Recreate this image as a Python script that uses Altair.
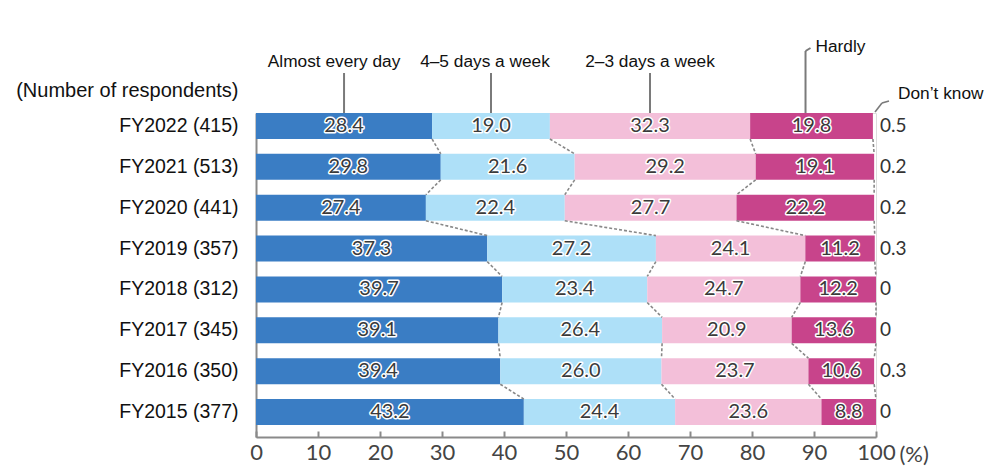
import altair as alt
import pandas as pd

# Survey results by fiscal year (% of respondents)
years = ["FY2022", "FY2021", "FY2020", "FY2019", "FY2018", "FY2017", "FY2016", "FY2015"]
respondents = [415, 513, 441, 357, 312, 345, 350, 377]
categories = ["Almost every day", "4\u20135 days a week", "2\u20133 days a week", "Hardly"]
every_day = [28.4, 29.8, 27.4, 37.3, 39.7, 39.1, 39.4, 43.2]
four_five = [19.0, 21.6, 22.4, 27.2, 23.4, 26.4, 26.0, 24.4]
two_three = [32.3, 29.2, 27.7, 24.1, 24.7, 20.9, 23.7, 23.6]
hardly = [19.8, 19.1, 22.2, 11.2, 12.2, 13.6, 10.6, 8.8]
dont_know = [0.5, 0.2, 0.2, 0.3, 0, 0, 0.3, 0]
x_ticks = [0, 10, 20, 30, 40, 50, 60, 70, 80, 90, 100]

colors = ["#3a7dc4", "#aee0f8", "#f3bfd9", "#c8448b"]

rows = [f"{y} ({n})" for y, n in zip(years, respondents)]
series = [every_day, four_five, two_three, hardly]

# Stacked segments
seg_records = []
cum = []
for i, row in enumerate(rows):
    start = 0.0
    bounds = []
    for cat, vals in zip(categories, series):
        v = vals[i]
        seg_records.append({
            "row": row, "cat": cat, "start": start, "end": start + v,
            "mid": start + v / 2, "label": f"{v:.1f}",
        })
        start += v
        bounds.append(start)
    cum.append(bounds)
segs = pd.DataFrame(seg_records)

# Dashed connectors between consecutive rows at each segment boundary
conn_records = []
for i in range(len(rows) - 1):
    for k in range(4):
        conn_records.append({
            "upper": rows[i], "lower": rows[i + 1],
            "x": cum[i][k], "x2": cum[i + 1][k],
        })
conn = pd.DataFrame(conn_records)

dk = pd.DataFrame({"row": rows, "x": [100] * len(rows),
                   "label": [f"{v:g}" for v in dont_know]})

# Category callouts above the first row
top = segs[segs["row"] == rows[0]].reset_index(drop=True)

LABEL_FONT = "Lato"
TEXT_FONT = "Liberation Sans"
CALLOUT_SIZE = 17.3

y_scale = alt.Scale(domain=rows, paddingInner=0.364, paddingOuter=0.146,
                    align=0, round=False)
x_scale = alt.Scale(domain=[0, 100], nice=False, zero=True)

y_enc = alt.Y(
    "row:N", scale=y_scale, sort=rows,
    axis=alt.Axis(
        title="(Number of respondents)", titleAngle=0, titleAlign="right",
        titleBaseline="middle", titleX=-18, titleY=-23, titleFont=TEXT_FONT,
        titleFontSize=20, titleFontWeight="normal", titleColor="#111",
        labelFont=TEXT_FONT, labelFontSize=19.5, labelColor="#111",
        labelPadding=18, ticks=False, domainColor="#8a8a8a", domainWidth=2,
    ),
)

bars = alt.Chart(segs).mark_bar().encode(
    x=alt.X(
        "start:Q", scale=x_scale,
        axis=alt.Axis(
            values=x_ticks, ticks=False, domainColor="#8a8a8a", domainWidth=2,
            labelFont=LABEL_FONT, labelFontSize=22, labelColor="#444",
            labelPadding=5, labelFlush=False, grid=False,
            title="(%)", titleFont=LABEL_FONT, titleFontSize=22,
            titleFontWeight="normal", titleColor="#444", titleAlign="left",
            titleBaseline="middle", titleX=643, titleY=17,
        ),
    ),
    x2="end:Q",
    y=y_enc,
    color=alt.Color("cat:N", scale=alt.Scale(domain=categories, range=colors),
                    legend=None),
)

# Upward tick marks along the bottom edge
ticks = alt.Chart(conn).mark_rule(opacity=0).encode(
    x=alt.X("x:Q", scale=x_scale,
            axis=alt.Axis(orient="top", offset=-324, values=x_ticks,
                          labels=False, domain=False, tickSize=6,
                          tickColor="#8a8a8a", tickWidth=2, title=None,
                          grid=False)),
    y=alt.Y("upper:N", scale=y_scale, sort=rows, axis=None),
)

connectors = alt.Chart(conn).mark_rule(
    color="#888", strokeDash=[3, 2], strokeWidth=1.6
).encode(
    x=alt.X("x:Q", scale=x_scale, axis=None),
    x2="x2:Q",
    y=alt.Y("upper:N", scale=y_scale, sort=rows, axis=None, bandPosition=1),
    y2=alt.Y2("lower:N", bandPosition=0),
)

halo = alt.Chart(segs).mark_text(
    font=LABEL_FONT, fontSize=20, stroke="white", strokeWidth=3,
    strokeJoin="round", color="white",
).encode(
    x=alt.X("mid:Q", scale=x_scale, axis=None),
    y=alt.Y("row:N", scale=y_scale, sort=rows, axis=None),
    text="label:N",
)

labels = alt.Chart(segs).mark_text(
    font=LABEL_FONT, fontSize=20, color="#3a3a3a",
).encode(
    x=alt.X("mid:Q", scale=x_scale, axis=None),
    y=alt.Y("row:N", scale=y_scale, sort=rows, axis=None),
    text="label:N",
)

dk_text = alt.Chart(dk).mark_text(
    font=LABEL_FONT, fontSize=19, color="#333", align="left", dx=4,
).encode(
    x=alt.X("x:Q", scale=x_scale, axis=None),
    y=alt.Y("row:N", scale=y_scale, sort=rows, axis=None),
    text="label:N",
)

LINE = "#7a7a7a"
first_three = top[top["cat"] != "Hardly"].copy()
first_three["shift"] = [-10, -6, 0]
hardly_row = top[top["cat"] == "Hardly"]

callout_lines = alt.Chart(first_three).mark_rule(color=LINE, strokeWidth=2).encode(
    x=alt.X("mid:Q", scale=x_scale, axis=None),
    y=alt.value(-40), y2=alt.value(0),
)
callout_text = alt.layer(*[
    alt.Chart(first_three[first_three["cat"] == c]).mark_text(
        font=TEXT_FONT, fontSize=CALLOUT_SIZE, color="#111", baseline="middle",
        dx=s,
    ).encode(
        x=alt.X("mid:Q", scale=x_scale, axis=None),
        y=alt.value(-51),
        text="cat:N",
    )
    for c, s in zip(first_three["cat"], first_three["shift"])
])

hardly_line = alt.Chart(hardly_row).mark_rule(
    color=LINE, strokeWidth=2, xOffset=-6, x2Offset=-6,
).encode(
    x=alt.X("mid:Q", scale=x_scale, axis=None), x2="mid:Q",
    y=alt.value(-62), y2=alt.value(0),
)
hardly_elbow = alt.Chart(hardly_row).mark_rule(
    color=LINE, strokeWidth=2, xOffset=-6, x2Offset=-1,
).encode(
    x=alt.X("mid:Q", scale=x_scale, axis=None), x2="mid:Q",
    y=alt.value(-62), y2=alt.value(-65),
)
hardly_text = alt.Chart(hardly_row).mark_text(
    font=TEXT_FONT, fontSize=CALLOUT_SIZE, color="#111", align="left", dx=4,
    baseline="middle",
).encode(
    x=alt.X("mid:Q", scale=x_scale, axis=None),
    y=alt.value(-66),
    text="cat:N",
)

dk_anchor = pd.DataFrame({"x": [100], "cat": ["Don\u2019t know"]})
dk_diag = alt.Chart(dk_anchor).mark_rule(
    color=LINE, strokeWidth=1.6, xOffset=-1, x2Offset=6,
).encode(
    x=alt.X("x:Q", scale=x_scale, axis=None), x2="x:Q",
    y=alt.value(-1), y2=alt.value(-10),
)
dk_flat = alt.Chart(dk_anchor).mark_rule(
    color=LINE, strokeWidth=1.6, xOffset=6, x2Offset=13,
).encode(
    x=alt.X("x:Q", scale=x_scale, axis=None), x2="x:Q",
    y=alt.value(-10), y2=alt.value(-12),
)
dk_label = alt.Chart(dk_anchor).mark_text(
    font=TEXT_FONT, fontSize=CALLOUT_SIZE, color="#111", align="left", dx=22,
    baseline="middle",
).encode(
    x=alt.X("x:Q", scale=x_scale, axis=None),
    y=alt.value(-19),
    text="cat:N",
)

chart = alt.layer(
    bars, ticks, connectors, halo, labels, dk_text,
    callout_lines, callout_text, hardly_line, hardly_elbow, hardly_text,
    dk_diag, dk_flat, dk_label,
).resolve_axis(x="independent", y="independent").properties(
    width=620, height=324,
    autosize=alt.AutoSizeParams(type="none"),
    padding={"left": 256, "top": 113, "right": 113, "bottom": 31},
).configure_view(stroke=None).configure(background="white")

chart.save("out.html", embed_options={"renderer": "svg", "actions": False})
